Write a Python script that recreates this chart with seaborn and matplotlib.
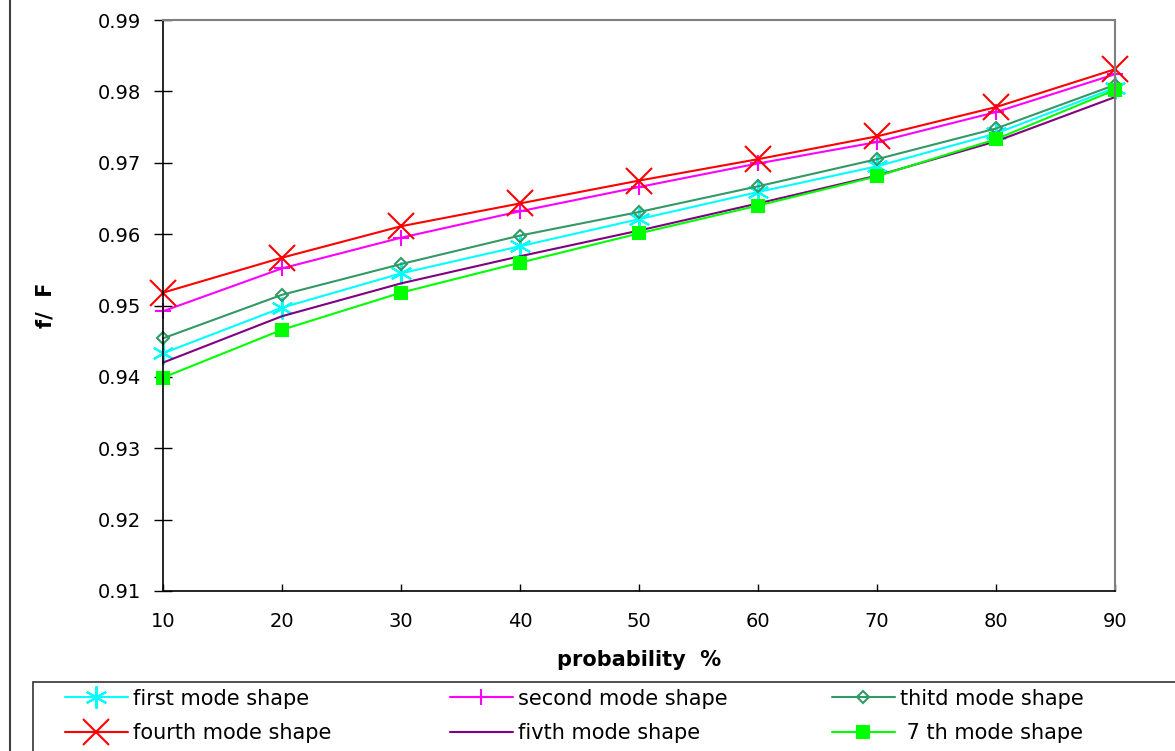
import numpy as np
import matplotlib
matplotlib.use("Agg")
import matplotlib.pyplot as plt
import matplotlib.patches as mpatches
from matplotlib.lines import Line2D
import seaborn as sns
import pandas as pd

# probability (%) on x axis
probability = [10, 20, 30, 40, 50, 60, 70, 80, 90]

# f/F ratio for each mode shape
first_mode = [0.9433, 0.9497, 0.9545, 0.9583, 0.9621, 0.9659, 0.9695, 0.9741, 0.9805]
second_mode = [0.9492, 0.9552, 0.9595, 0.9632, 0.9666, 0.9699, 0.9729, 0.9771, 0.9824]
third_mode = [0.9454, 0.9515, 0.9558, 0.9598, 0.9631, 0.9667, 0.9705, 0.9748, 0.9809]
fourth_mode = [0.9518, 0.9567, 0.9611, 0.9643, 0.9675, 0.9705, 0.9737, 0.9778, 0.9831]
fifth_mode = [0.9420, 0.9485, 0.9531, 0.9569, 0.9605, 0.9643, 0.9682, 0.9730, 0.9792]
seventh_mode = [0.9399, 0.9466, 0.9518, 0.9560, 0.9601, 0.9640, 0.9681, 0.9733, 0.9802]

labels = ["first mode shape", "second mode shape", "thitd mode shape",
          "fourth mode shape", "fivth mode shape", " 7 th mode shape"]

sns.set_style("white")
plt.rcParams["font.family"] = ["DejaVu Sans"]
plt.rcParams["text.color"] = "black"
plt.rcParams["axes.labelcolor"] = "black"

fig = plt.figure(figsize=(11.75, 7.51), dpi=100)
ax = fig.add_axes([163 / 1175, 1 - 591 / 751, (1115 - 163) / 1175, (591 - 20) / 751])

# style for each series: colour, marker, size, filled
styles = [
    ("#00FFFF", (6, 2, 0), 16, True),
    ("#FF00FF", "+", 11, True),
    ("#339966", "D", 6.5, False),
    ("#FF0000", "x", 19, True),
    ("#800080", None, 0, True),
    ("#00FF00", "s", 8.5, True),
]
series = [first_mode, second_mode, third_mode, fourth_mode, fifth_mode, seventh_mode]

handles = []
for values, label, (color, marker, size, filled) in zip(series, labels, styles):
    df = pd.DataFrame({"probability": probability, "ratio": values})
    kw = dict(color=color, linewidth=1.5)
    if marker is not None:
        kw.update(marker=marker, markersize=size, markeredgewidth=1.5,
                  markeredgecolor=color,
                  markerfacecolor=color if filled else "none")
    sns.lineplot(data=df, x="probability", y="ratio", ax=ax, legend=False,
                 clip_on=False, **kw)
    handles.append(Line2D([], [], label=label, **kw))

ax.set_xlim(10, 90)
ax.set_ylim(0.91, 0.99)
ax.set_xticks(probability)
yticks = np.arange(0.91, 0.9901, 0.01)
ax.set_yticks(yticks)
ax.set_yticklabels([f"{v:.2f}" for v in yticks])
ax.margins(0)

for side in ["left", "bottom"]:
    ax.spines[side].set_color("black")
    ax.spines[side].set_linewidth(1.2)
for side in ["top", "right"]:
    ax.spines[side].set_color("#808080")
    ax.spines[side].set_linewidth(1.5)

ax.tick_params(axis="y", direction="inout", length=13, width=1, labelsize=14,
               left=True, pad=9.5, colors="black")
ax.tick_params(axis="x", direction="in", length=5, width=1, labelsize=14,
               bottom=True, pad=15, colors="black")

ax.set_xlabel("probability  %", fontsize=15, fontweight="bold", labelpad=14, color="black")
ax.set_ylabel("f/  F", fontsize=15, fontweight="bold", labelpad=30, color="black")

# left frame line of the chart area
fig.add_artist(Line2D([10 / 1175, 10 / 1175], [0, 1], color="#404040", linewidth=1.5))

# legend box at the bottom
fig.add_artist(mpatches.Rectangle((33 / 1175, -0.05), 1.1, (751 - 682) / 751 + 0.05,
                                  transform=fig.transFigure, facecolor="white",
                                  edgecolor="#333333", linewidth=1.2))

# one legend per column, rows: first/fourth, second/fifth, third/seventh
col_x = [65, 450, 832]
for c, x0 in enumerate(col_x):
    fig.legend(handles=[handles[c], handles[c + 3]], loc="center left",
               bbox_to_anchor=(x0 / 1175, 1 - 716 / 751), frameon=False,
               fontsize=15, handlelength=3.0, handletextpad=0.25,
               labelspacing=0.7, borderpad=0, borderaxespad=0,
               labelcolor="black")

fig.savefig("out.png", dpi=100)
